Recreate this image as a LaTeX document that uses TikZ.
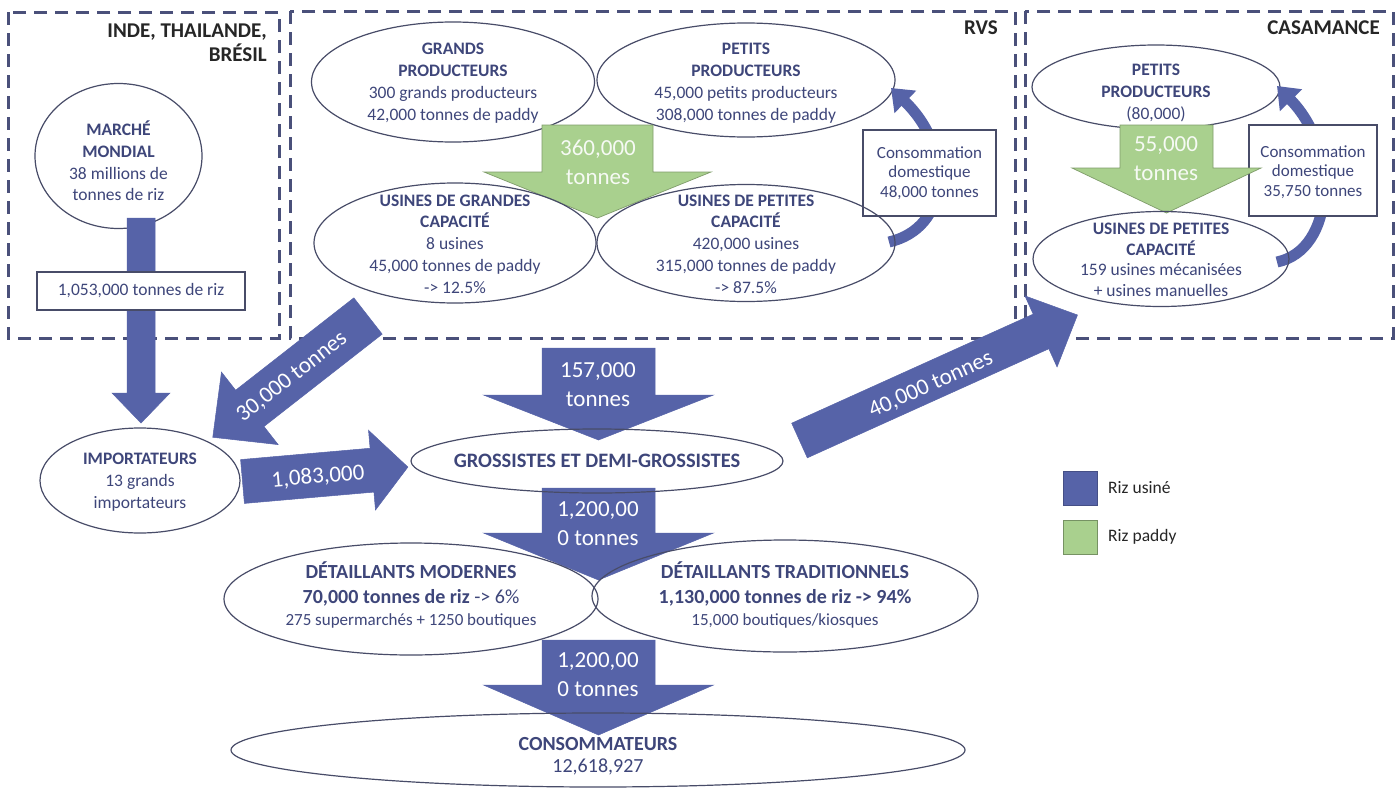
\documentclass[tikz,border=0pt]{standalone}
\usepackage{fontspec}
\setmainfont{Carlito}
\usetikzlibrary{shapes.geometric,arrows.meta}
\definecolor{navy}{RGB}{62,70,122}
\definecolor{flow}{RGB}{86,99,168}
\definecolor{paddy}{RGB}{169,208,142}
\definecolor{edge}{RGB}{72,76,104}
\definecolor{dashc}{RGB}{74,80,122}
\newcommand\flowarrow[8]{%
  \begin{scope}[shift={#2},rotate=#3]
    \filldraw[#1] (0,-#5) -- ({#4-#7},-#5) -- ({#4-#7},-#6) -- (#4,0) -- ({#4-#7},#6) -- ({#4-#7},#5) -- (0,#5) -- cycle;
    \coordinate (#8) at ({(#4)/2},0);
  \end{scope}}
\tikzset{
  ell/.style={draw=edge,line width=1.2pt,ellipse,inner sep=0pt},
  lbl/.style={text=navy,align=center,inner sep=0pt,font=\fontsize{17.5}{21.8}\selectfont},
  big/.style={text=navy,align=center,inner sep=0pt,font=\fontsize{20}{25}\selectfont},
  zone/.style={draw=dashc,line width=3pt,dash pattern=on 13pt off 8pt},
  hdr/.style={font=\fontsize{21}{24}\selectfont\bfseries,text=black!85,inner sep=0pt},
  flowlbl/.style={text=white,align=center,inner sep=0pt,font=\fontsize{23}{29}\selectfont},
  paddylbl/.style={text=white!90!paddy,align=center,inner sep=0pt,font=\fontsize{23}{29}\selectfont},
  cbox/.style={draw=edge,line width=1.2pt,fill=white,inner sep=0pt,rectangle},
  cboxtxt/.style={text=navy,align=center,inner sep=0pt,font=\fontsize{17}{19.5}\selectfont},
  curl/.style={draw=flow,line width=11pt,-{Triangle[length=20pt,width=30pt]}},
  blueflow/.style={fill=flow,draw=flow,line width=0.5pt},
  greenflow/.style={fill=paddy,draw=paddy!75!black,line width=0.7pt},
  legtxt/.style={text=black!85,anchor=west,inner sep=0pt,font=\fontsize{17.5}{21}\selectfont}
}
\begin{document}
\begin{tikzpicture}[x=1pt,y=-1pt]
\useasboundingbox (0,0) rectangle (1400,787);
\fill[white] (0,0) rectangle (1400,787);

% zones
\draw[zone] (8,12) rectangle (279,338);
\draw[zone] (290,11) rectangle (1015,338);
\draw[zone] (1025,11) rectangle (1393,338);
\node[hdr,anchor=base east] (h1a) at (267,37) {INDE, THAILANDE,};
\node[hdr,anchor=base east] (h1b) at (267,61) {BRÉSIL};
\node[hdr,anchor=base east] (h2) at (998,34) {RVS};
\node[hdr,anchor=base east] (h3) at (1380,34) {CASAMANCE};

% source ellipses (under arrows)
\node[ell,minimum width=167,minimum height=145] (mm) at (118.5,156) {};
\node[ell,minimum width=283,minimum height=120] (gp) at (453,82) {};
\node[ell,minimum width=298,minimum height=114] (pp) at (746,80) {};
\node[ell,minimum width=248,minimum height=84] (cpp) at (1156,87) {};

% curved self-consumption arrows
\coordinate (c1s) at (889,242);
\coordinate (c1e) at (891,88);
\draw[curl] (c1s) .. controls (950,228) and (955,150) .. (c1e);
\coordinate (c2s) at (1277,262);
\coordinate (c2e) at (1277,86);
\draw[curl] (c2s) .. controls (1335,250) and (1340,150) .. (c2e);
\node[cbox,minimum width=133,minimum height=86] (crvs) at (929.5,173) {};
\node[cboxtxt] (crvs-t) at (crvs.center) {Consommation\\domestique\\48,000 tonnes};
\node[cbox,minimum width=128,minimum height=91] (ccas) at (1313,170.5) {};
\node[cboxtxt] (ccas-t) at (1313,172) {Consommation\\domestique\\35,750 tonnes};

% flows
\flowarrow{blueflow}{(141,218)}{-90}{205}{14}{29}{30}{a1}
\node[cbox,minimum width=208,minimum height=38] (b1053) at (141,291) {};
\node[lbl] (b1053-t) at (b1053.center) {1,053,000 tonnes de riz};
\flowarrow{blueflow}{(368,316)}{-142}{197}{23}{46}{47}{a30}
\flowarrow{blueflow}{(242.5,481.5)}{5}{166}{22}{40}{36}{a1083}
\flowarrow{blueflow}{(598.5,348)}{-90}{92}{56.5}{115}{45}{a157}
\flowarrow{blueflow}{(598.5,488)}{-90}{92}{56.5}{115}{47}{a1200a}
\flowarrow{blueflow}{(598.5,640)}{-90}{95}{56.5}{115}{50}{a1200b}
\flowarrow{blueflow}{(799.5,440.5)}{24.3}{305}{19}{39}{40}{a40}
\flowarrow{greenflow}{(597.5,125)}{-90}{93}{55.5}{113.5}{46}{g360}
\flowarrow{greenflow}{(1166.5,125)}{-90}{88}{46.5}{94.5}{45}{g55}

% target ellipses
\node[ell,minimum width=282,minimum height=120] (ug) at (455,243) {};
\node[ell,minimum width=298,minimum height=117] (up) at (746,243) {};
\node[ell,minimum width=256,minimum height=95] (cup) at (1161,259) {};
\node[ell,minimum width=200,minimum height=105] (imp) at (140,480.5) {};
\node[ell,minimum width=372,minimum height=64] (gro) at (597,461) {};
\node[ell,minimum width=374,minimum height=112] (dm) at (411,599) {};
\node[ell,minimum width=386,minimum height=112] (dt) at (785,596) {};
\node[ell,minimum width=734,minimum height=74] (con) at (598,750) {};

% flow labels
\node[flowlbl,rotate=38] (t30) at (292,377) {30,000 tonnes};
\node[flowlbl,rotate=5] (t1083) at (318,477) {1,083,000};
\node[flowlbl] (t157) at (598,385) {157,000\\tonnes};
\node[flowlbl] (t1200a) at (598,524) {1,200,00\\0 tonnes};
\node[flowlbl] (t1200b) at (598,675) {1,200,00\\0 tonnes};
\node[flowlbl,rotate=24.3] (t40) at (931,385) {40,000 tonnes};
\node[paddylbl] (t360) at (598,162) {360,000\\tonnes};
\node[paddylbl] (t55) at (1166,159) {55,000\\tonnes};

% ellipse texts
\node[lbl] (mm-t) at (118.5,161) {\textbf{MARCHÉ}\\\textbf{MONDIAL}\\38 millions de\\tonnes de riz};
\node[lbl] (gp-t) at (453,83) {\textbf{GRANDS}\\\textbf{PRODUCTEURS}\\300 grands producteurs\\42,000 tonnes de paddy};
\node[lbl] (pp-t) at (746,83) {\textbf{PETITS}\\\textbf{PRODUCTEURS}\\45,000 petits producteurs\\308,000 tonnes de paddy};
\node[lbl] (ug-t) at (455,244) {\textbf{USINES DE GRANDES}\\\textbf{CAPACITÉ}\\8 usines\\45,000 tonnes de paddy\\-> 12.5\%};
\node[lbl] (up-t) at (746,244) {\textbf{USINES DE PETITES}\\\textbf{CAPACITÉ}\\420,000 usines\\315,000 tonnes de paddy\\-> 87.5\%};
\node[lbl] (cpp-t) at (1156,93) {\textbf{PETITS}\\\textbf{PRODUCTEURS}\\(80,000)};
\node[lbl,font=\fontsize{17.5}{20.5}\selectfont] (cup-t) at (1161,260) {\textbf{USINES DE PETITES}\\\textbf{CAPACITÉ}\\159 usines mécanisées\\+ usines manuelles};
\node[lbl] (imp-t) at (140,482) {\textbf{IMPORTATEURS}\\13 grands\\importateurs};
\node[big,font=\fontsize{20.5}{25}\selectfont\bfseries] (gro-t) at (597,461) {GROSSISTES ET DEMI-GROSSISTES};
\node[big] (dm-t) at (411,595) {\textbf{DÉTAILLANTS MODERNES}\\\textbf{70,000 tonnes de riz} -> 6\%\\[-3pt]{\fontsize{17}{20}\selectfont 275 supermarchés + 1250 boutiques}};
\node[big] (dt-t) at (785,595) {\textbf{DÉTAILLANTS TRADITIONNELS}\\\textbf{1,130,000 tonnes de riz -> 94\%}\\[-3pt]{\fontsize{17}{20}\selectfont 15,000 boutiques/kiosques}};
\node[big,font=\fontsize{20}{22}\selectfont] (con-t) at (598,756) {\textbf{CONSOMMATEURS}\\12,618,927};

% legend
\node[fill=flow,draw=flow!80!black,line width=0.8pt,minimum size=34pt,inner sep=0pt] (lg1) at (1080,488) {};
\node[legtxt] (lg1-t) at (1108,488) {Riz usiné};
\node[fill=paddy,draw=paddy!70!black,line width=0.8pt,minimum size=34pt,inner sep=0pt] (lg2) at (1080,537) {};
\node[legtxt] (lg2-t) at (1108,537) {Riz paddy};
\end{tikzpicture}
\end{document}
